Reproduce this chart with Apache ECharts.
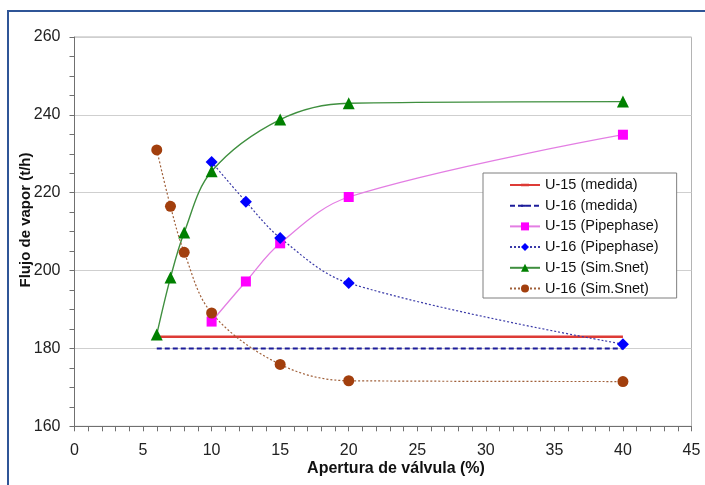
<!DOCTYPE html>
<html>
<head>
<meta charset="utf-8">
<title>Flujo de vapor vs apertura de válvula</title>
<script src="https://cdn.jsdelivr.net/npm/echarts@6/dist/echarts.min.js"></script>
<style>
  html, body { margin: 0; padding: 0; background: #ffffff; }
  #chart { width: 705px; height: 485px; }
</style>
</head>
<body>
<div id="chart"></div>
<script>
// Measured steam flow (horizontal reference lines)
const medidaX = [6, 40];
const u15Medida = [183, 183];
const u16Medida = [180, 180];

// Pipephase simulation
const pipeX = [10, 12.5, 15, 20, 40];
const u15Pipe = [186.9, 197.2, 207.0, 218.9, 234.9];
const u16Pipe = [227.9, 217.7, 208.4, 196.8, 181.1];

// Sim.Snet simulation
const snetX = [6, 7, 8, 10, 15, 20, 40];
const u15Snet = [183.6, 198.2, 209.8, 225.5, 238.8, 243.0, 243.4];
const u16Snet = [231.0, 216.5, 204.7, 189.1, 175.9, 171.7, 171.5];

const seriesNames = [
  'U-15 (medida)', 'U-16 (medida)',
  'U-15 (Pipephase)', 'U-16 (Pipephase)',
  'U-15 (Sim.Snet)', 'U-16 (Sim.Snet)'
];

const FONT = '"Liberation Sans", Arial, sans-serif';
const SMOOTH = 0.35;

// Marker shapes for the marker-less series: a short bar (solid) or a dash,
// so the legend line looks continuous. The tiny corner strokes pin the
// bounding box so the bar keeps its thickness when scaled.
const SOLID_BAR = 'path://M0,0L0.01,0M10,10L9.99,10M0,3.45L10,3.45L10,6.55L0,6.55Z';
const DASH_BAR = 'path://M0,0L0.01,0M10,10L9.99,10M0,3.75L6.2,3.75L6.2,6.25L0,6.25Z';

function pairs(xs, ys) {
  return xs.map((x, i) => [x, ys[i]]);
}

const chart = echarts.init(document.getElementById('chart'), null, { renderer: 'canvas' });

chart.setOption({
  animation: false,
  backgroundColor: '#ffffff',
  textStyle: { fontFamily: FONT },
  graphic: [
    {
      type: 'rect',
      silent: true,
      shape: { x: 8, y: 11, width: 760, height: 540 },
      style: { fill: 'none', stroke: '#2f5597', lineWidth: 2 },
      z: -10
    },
    {
      type: 'text',
      x: 396, y: 469,
      style: {
        text: 'Apertura de válvula (%)',
        font: 'bold 16px ' + FONT,
        fill: '#111',
        align: 'center',
        verticalAlign: 'middle'
      }
    },
    {
      type: 'text',
      x: 26, y: 220,
      rotation: Math.PI / 2,
      style: {
        text: 'Flujo de vapor (t/h)',
        font: 'bold 15px ' + FONT,
        fill: '#111',
        align: 'center',
        verticalAlign: 'middle'
      }
    }
  ],
  grid: {
    left: 74.5,
    right: 13.5,
    top: 37,
    bottom: 58.7,
    show: true,
    borderColor: '#b4b4b4',
    borderWidth: 1,
    backgroundColor: '#ffffff'
  },
  legend: {
    data: seriesNames,
    orient: 'vertical',
    left: 483,
    top: 173,
    itemWidth: 30,
    itemHeight: 10,
    itemGap: 5.7,
    padding: [4.5, 18, 2, 26],
    backgroundColor: '#ffffff',
    borderColor: '#7f7f7f',
    borderWidth: 1,
    textStyle: { fontSize: 14.5, color: '#111', fontFamily: FONT }
  },
  xAxis: {
    type: 'value',
    min: 0,
    max: 45,
    interval: 5,
    axisLine: { show: true, onZero: false, lineStyle: { color: '#707070', width: 1 } },
    axisTick: { show: true, length: 5, lineStyle: { color: '#707070' } },
    minorTick: { show: true, splitNumber: 5, length: 5, lineStyle: { color: '#707070' } },
    splitLine: { show: false },
    axisLabel: { fontSize: 16, color: '#222', margin: 16, fontFamily: FONT }
  },
  yAxis: {
    type: 'value',
    min: 160,
    max: 260,
    interval: 20,
    axisLine: { show: true, onZero: false, lineStyle: { color: '#707070', width: 1 } },
    axisTick: { show: true, length: 5, lineStyle: { color: '#707070' } },
    minorTick: { show: true, splitNumber: 4, length: 5, lineStyle: { color: '#707070' } },
    splitLine: { show: true, lineStyle: { color: '#cfcfcf', width: 1 } },
    axisLabel: { fontSize: 16, color: '#222', margin: 14, fontFamily: FONT }
  },
  series: [
    {
      name: seriesNames[0],
      type: 'line',
      data: pairs(medidaX, u15Medida),
      showSymbol: false,
      symbol: SOLID_BAR,
      lineStyle: { color: '#dd3b36', width: 2.5 },
      itemStyle: { color: '#dd3b36' }
    },
    {
      name: seriesNames[1],
      type: 'line',
      data: pairs(medidaX, u16Medida),
      showSymbol: false,
      symbol: DASH_BAR,
      lineStyle: { color: '#1c1c9a', width: 2, type: [5, 3] },
      itemStyle: { color: '#1c1c9a' }
    },
    {
      name: seriesNames[2],
      type: 'line',
      data: pairs(pipeX, u15Pipe),
      smooth: SMOOTH,
      symbol: 'rect',
      symbolSize: 10,
      lineStyle: { color: '#e37ee3', width: 1.3 },
      itemStyle: { color: '#ff00ff' }
    },
    {
      name: seriesNames[3],
      type: 'line',
      data: pairs(pipeX, u16Pipe),
      smooth: SMOOTH,
      symbol: 'diamond',
      symbolSize: 12,
      lineStyle: { color: '#3a3aa8', width: 1.2, type: [2, 2] },
      itemStyle: { color: '#0000ff' }
    },
    {
      name: seriesNames[4],
      type: 'line',
      data: pairs(snetX, u15Snet),
      smooth: SMOOTH,
      symbol: 'triangle',
      symbolSize: 12,
      lineStyle: { color: '#3f8f3f', width: 1.4 },
      itemStyle: { color: '#008000' }
    },
    {
      name: seriesNames[5],
      type: 'line',
      data: pairs(snetX, u16Snet),
      smooth: SMOOTH,
      symbol: 'circle',
      symbolSize: 11,
      lineStyle: { color: '#a0603a', width: 1.2, type: [2, 2] },
      itemStyle: { color: '#a23f0d' }
    }
  ]
});
</script>
</body>
</html>
